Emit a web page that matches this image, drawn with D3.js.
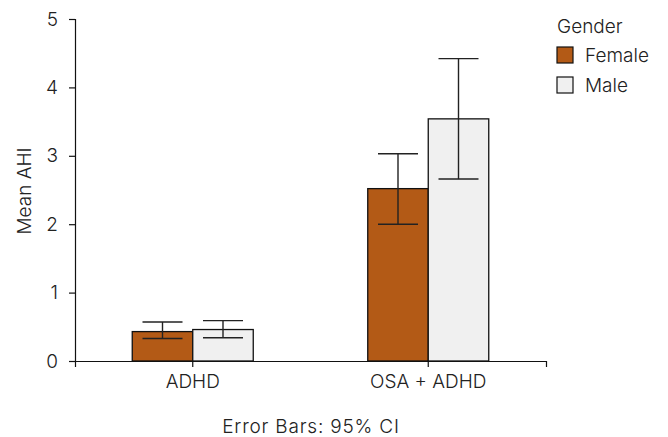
<!DOCTYPE html>
<html>
<head>
<meta charset="utf-8">
<script src="https://cdn.jsdelivr.net/npm/d3@7"></script>
<style>
  body { margin: 0; background: #fff; }
  svg text { font-family: Inter, Roboto, "Liberation Sans", sans-serif; font-weight: 300; fill: #222; }
</style>
</head>
<body>
<svg id="chart" width="668" height="437"></svg>
<script>
// data
let groups = ['ADHD', 'OSA + ADHD'];
let genders = ['Female', 'Male'];
let meanFemale = [0.43, 2.52];
let meanMale = [0.46, 3.54];
let lowFemale = [0.33, 2.00];
let highFemale = [0.57, 3.03];
let lowMale = [0.34, 2.66];
let highMale = [0.59, 4.42];
let yTicks = [0, 1, 2, 3, 4, 5];

let colors = { Female: '#b35a16', Male: '#f0f0f0' };
let fontSize = '19px';

let rows = [];
groups.forEach((g, i) => {
    rows.push({ group: g, gender: 'Female', mean: meanFemale[i], lo: lowFemale[i], hi: highFemale[i] });
    rows.push({ group: g, gender: 'Male', mean: meanMale[i], lo: lowMale[i], hi: highMale[i] });
});

let svg = d3.select('#chart');

let xScale = d3.scaleBand()
    .domain(groups)
    .range([75, 546])
    .padding(0);

let gScale = d3.scaleBand()
    .domain(genders)
    .range([-60.5, 60.5]);

let yScale = d3.scaleLinear()
    .domain([0, 5])
    .range([361, 19]);

// bars
svg.selectAll('rect.bar')
    .data(rows)
    .enter()
    .append('rect')
    .attr('class', 'bar')
    .attr('x', d => xScale(d.group) + xScale.bandwidth() / 2 + gScale(d.gender))
    .attr('y', d => yScale(d.mean))
    .attr('width', gScale.bandwidth())
    .attr('height', d => yScale(0) - yScale(d.mean))
    .attr('fill', d => colors[d.gender])
    .attr('stroke', '#111')
    .attr('stroke-width', 1.3);

// error bars
let cx = d => xScale(d.group) + xScale.bandwidth() / 2 + gScale(d.gender) + gScale.bandwidth() / 2;
let err = svg.selectAll('g.err')
    .data(rows)
    .enter()
    .append('g')
    .attr('class', 'err')
    .attr('stroke', '#222')
    .attr('stroke-width', 1.4);

err.append('line')
    .attr('x1', cx).attr('x2', cx)
    .attr('y1', d => yScale(d.lo)).attr('y2', d => yScale(d.hi));
err.append('line')
    .attr('x1', d => cx(d) - 20).attr('x2', d => cx(d) + 20)
    .attr('y1', d => yScale(d.hi)).attr('y2', d => yScale(d.hi));
err.append('line')
    .attr('x1', d => cx(d) - 20).attr('x2', d => cx(d) + 20)
    .attr('y1', d => yScale(d.lo)).attr('y2', d => yScale(d.lo));

// axes
let yAxis = svg.append('g')
    .attr('transform', 'translate(75,0)')
    .call(d3.axisLeft(yScale).tickValues(yTicks).tickFormat(d3.format('d')).tickSize(6).tickPadding(11));

let xAxis = svg.append('g')
    .attr('transform', 'translate(0,361)')
    .call(d3.axisBottom(xScale).tickSize(6).tickPadding(8));

[yAxis, xAxis].forEach(a => {
    a.selectAll('path, line').attr('stroke', '#111').attr('stroke-width', 1.2);
    a.selectAll('text')
        .attr('fill', '#222')
        .style('font-size', fontSize);
});

// axis titles
svg.append('text')
    .attr('transform', 'translate(31,191) rotate(-90)')
    .attr('text-anchor', 'middle')
    .style('font-size', fontSize)
    .text('Mean AHI');

svg.append('text')
    .attr('x', 311)
    .attr('y', 433)
    .attr('text-anchor', 'middle')
    .style('font-size', fontSize)
    .style('letter-spacing', '0.8px')
    .text('Error Bars: 95% CI');

// legend
let legend = svg.append('g').attr('transform', 'translate(557,0)');
legend.append('text')
    .attr('x', 0)
    .attr('y', 33)
    .style('font-size', fontSize)
    .text('Gender');

let items = legend.selectAll('g.item')
    .data(genders)
    .enter()
    .append('g')
    .attr('class', 'item')
    .attr('transform', (d, i) => `translate(0,${47 + i * 30})`);

items.append('rect')
    .attr('width', 16)
    .attr('height', 16)
    .attr('fill', d => colors[d])
    .attr('stroke', '#111')
    .attr('stroke-width', 1.2);

items.append('text')
    .attr('x', 28)
    .attr('y', 8)
    .attr('dy', '0.35em')
    .style('font-size', fontSize)
    .text(d => d);
</script>
</body>
</html>
